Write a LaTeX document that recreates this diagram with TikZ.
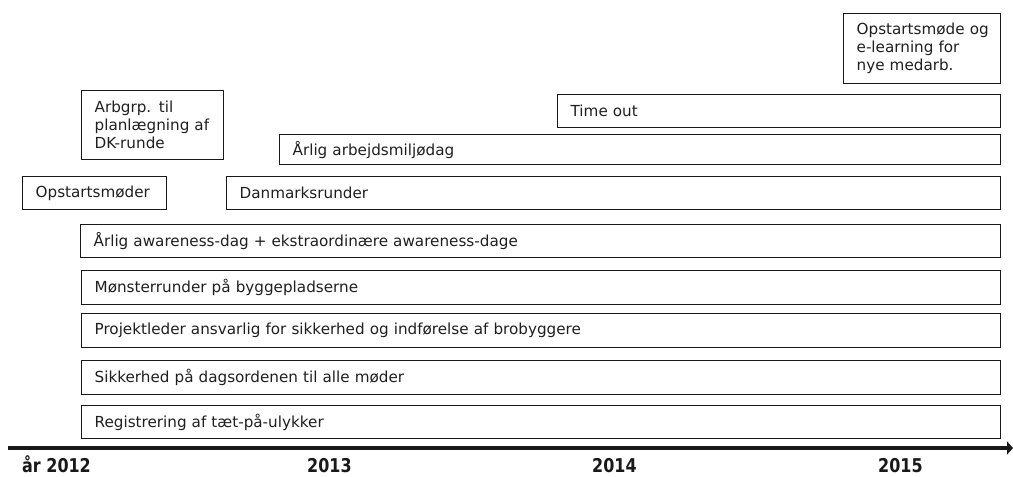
\documentclass[tikz,border=0pt]{standalone}
\usepackage{fontspec}
\setmainfont{DejaVu Sans}
\usetikzlibrary{arrows.meta}
\tikzset{
  bx/.style={draw=black!90, line width=1.3pt, rectangle, inner xsep=13pt, inner ysep=0pt,
    anchor=north west, align=left, text=black!88, font=\fontsize{15.2}{18}\selectfont},
  yr/.style={inner sep=0pt, text=black!90, font=\fontsize{19}{21}\selectfont\bfseries},
}
\newcommand{\tbox}[6]{% name, x1, y1, x2, y2, text
  \pgfmathsetmacro{\bw}{#4-#2}\pgfmathsetmacro{\bh}{#5-#3}%
  \node[bx, minimum width=\bw pt, minimum height=\bh pt, text width=\bw pt-26pt] (#1) at (#2,#3) {#6};}
\begin{document}
\begin{tikzpicture}[x=1pt,y=-1pt]
\useasboundingbox (0,0) rectangle (1013,477);
\tbox{opstartE}{843}{13}{1000}{83}{\mbox{Opstartsmøde og}\\e-learning for\\nye medarb.}
\tbox{timeout}{557}{94}{1000}{127}{Time out}
\tbox{arbgrp}{81}{90}{223}{159}{Arbgrp. til\\\mbox{planlægning af}\\DK-runde}
\tbox{arbmiljo}{279}{134}{1000}{164}{Årlig arbejdsmiljødag}
\tbox{opstart}{22}{176}{166}{209}{Opstartsmøder}
\tbox{danmark}{226}{176}{1000}{209}{Danmarksrunder}
\tbox{awareness}{80}{224}{1000}{257}{Årlig awareness-dag + ekstraordinære awareness-dage}
\tbox{monster}{81}{270}{1000}{304}{Mønsterrunder på byggepladserne}
\tbox{projekt}{81}{313}{1000}{347}{Projektleder ansvarlig for sikkerhed og indførelse af brobyggere}
\tbox{sikkerhed}{81}{360}{1000}{394}{Sikkerhed på dagsordenen til alle møder}
\tbox{registrering}{81}{405}{1000}{438}{Registrering af tæt-på-ulykker}
\coordinate (axs) at (8,448);
\coordinate (axe) at (1013,448);
\draw[line width=4.5pt, black!90, -{Triangle[length=6pt,width=13pt]}] (axs) -- (axe);
\node[yr, anchor=west] (y2012) at (22,464) {\scalebox{0.84}[1]{år 2012}};
\node[yr, anchor=west] (y2013) at (307,466) {\scalebox{0.84}[1]{2013}};
\node[yr, anchor=west] (y2014) at (592,466) {\scalebox{0.84}[1]{2014}};
\node[yr, anchor=west] (y2015) at (878,466) {\scalebox{0.84}[1]{2015}};
\end{tikzpicture}
\end{document}
